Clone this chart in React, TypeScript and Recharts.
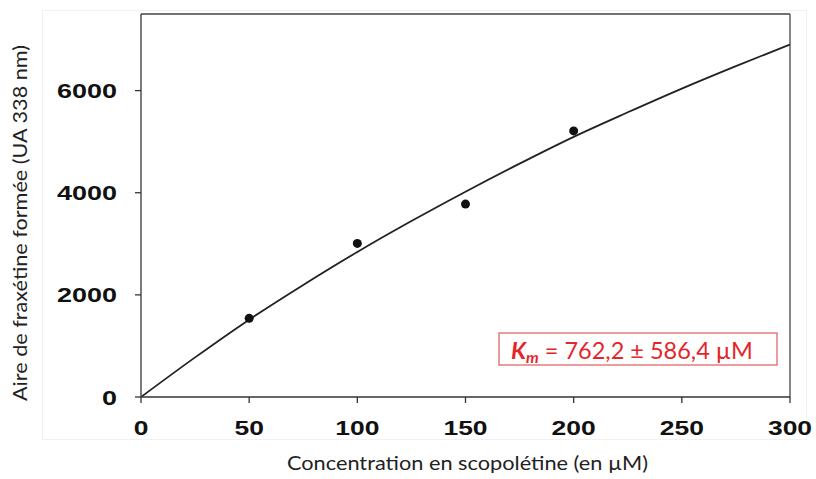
import React from "react";
import {
  ComposedChart,
  Line,
  Scatter,
  XAxis,
  YAxis,
  ReferenceLine,
} from "recharts";

// Measured data points: concentration (µM) vs fraxetin area (UA 338 nm)
const concentrations = [50, 100, 150, 200];
const areas = [1540, 3008, 3777, 5211];

// Fitted curve
const curveX = [0, 25, 50, 75, 100, 125, 150, 175, 200, 225, 250, 275, 300];
const curveY = [0, 776, 1515, 2195, 2840, 3445, 4020, 4570, 5095, 5575, 6040, 6480, 6902];

const xTicks = [0, 50, 100, 150, 200, 250, 300];
const yTicks = [0, 2000, 4000, 6000];

const xTitle = "Concentration en scopolétine (en µM)";
const yTitle = "Aire de fraxétine formée (UA 338 nm)";
const kmLabel = "K";
const kmSub = "m";
const kmValue = " = 762,2 ± 586,4 µM";

const points = concentrations.map((x, i) => ({ x, y: areas[i] }));
const curve = curveX.map((x, i) => ({ x, y: curveY[i] }));

const AXIS = "#333";

const XTick = (props: any) => {
  const { x, y, payload } = props;
  const s = String(payload.value);
  return (
    <text
      x={x}
      y={y}
      dy="0.71em"
      textAnchor="middle"
      fontFamily="Liberation Sans, Arial, sans-serif"
      fontWeight="bold"
      fontSize={21}
      fill="#111"
      textLength={s.length * 14.7}
      lengthAdjust="spacingAndGlyphs"
    >
      {s}
    </text>
  );
};

const YTick = (props: any) => {
  const { x, y, payload } = props;
  const s = String(payload.value);
  return (
    <text
      x={x}
      y={y}
      dy="0.36em"
      textAnchor="end"
      fontFamily="Liberation Sans, Arial, sans-serif"
      fontWeight="bold"
      fontSize={21}
      fill="#111"
      textLength={s.length * 15}
      lengthAdjust="spacingAndGlyphs"
    >
      {s}
    </text>
  );
};

const XTitle = () => (
  <text
    x={467.5}
    y={470}
    textAnchor="middle"
    fontFamily="Lato, 'Open Sans', sans-serif"
    fontSize={20}
    fill="#222"
    textLength={361}
    lengthAdjust="spacingAndGlyphs"
  >
    {xTitle}
  </text>
);

const YTitle = () => (
  <text
    x={0}
    y={0}
    transform="translate(27,223) rotate(-90)"
    textAnchor="middle"
    fontFamily="Lato, 'Open Sans', sans-serif"
    fontSize={20}
    fill="#222"
    textLength={356}
    lengthAdjust="spacingAndGlyphs"
  >
    {yTitle}
  </text>
);

const KmBox = () => (
  <g>
    <rect x={499} y={333} width={278} height={32} fill="#fff" stroke="#e05a5a" strokeWidth={1.2} />
    <text
      x={511}
      y={359}
      fontFamily="Lato, 'Open Sans', sans-serif"
      fontSize={23.5}
      fill="#e3262b"
    >
      <tspan fontWeight="bold" fontStyle="italic">{kmLabel}</tspan>
      <tspan fontWeight="bold" fontStyle="italic" fontSize={16} dy={4}>{kmSub}</tspan>
      <tspan dy={-4}>{kmValue}</tspan>
    </text>
  </g>
);

export default function App() {
  return (
    <div style={{ position: "absolute", left: 0, top: 0, width: 816, height: 479, background: "#fff" }}>
      <div
        style={{
          position: "absolute",
          left: 42,
          top: 10,
          width: 763,
          height: 428,
          border: "1px solid #f1f1f1",
        }}
      />
      <div style={{ position: "absolute", left: 0, top: 0 }}>
        <ComposedChart
          width={816}
          height={479}
          margin={{ top: 14, right: 26, bottom: 0, left: 0 }}
        >
          <XAxis
            type="number"
            dataKey="x"
            domain={[0, 300]}
            ticks={xTicks}
            allowDataOverflow
            height={82}
            tickSize={6}
            tickMargin={17}
            stroke={AXIS}
            strokeWidth={1.3}
            tick={<XTick />}
            label={<XTitle />}
          />
          <YAxis
            type="number"
            dataKey="y"
            domain={[0, 7500]}
            ticks={yTicks}
            allowDataOverflow
            width={141}
            tickSize={6}
            tickMargin={18}
            stroke={AXIS}
            strokeWidth={1.3}
            tick={<YTick />}
            label={<YTitle />}
          />
          <ReferenceLine y={7500} stroke="#444" strokeWidth={1.3} />
          <ReferenceLine x={300} stroke="#444" strokeWidth={1.3} />
          <Line
            data={curve}
            dataKey="y"
            type="monotone"
            stroke="#222"
            strokeWidth={1.8}
            dot={false}
            activeDot={false}
            isAnimationActive={false}
          />
          <Scatter
            data={points}
            dataKey="y"
            fill="#111"
            isAnimationActive={false}
            shape={(p: any) => <circle cx={p.cx} cy={p.cy} r={4.5} fill="#111" />}
          />
          <ReferenceLine y={0} stroke="none" label={<KmBox />} />
        </ComposedChart>
      </div>
    </div>
  );
}
